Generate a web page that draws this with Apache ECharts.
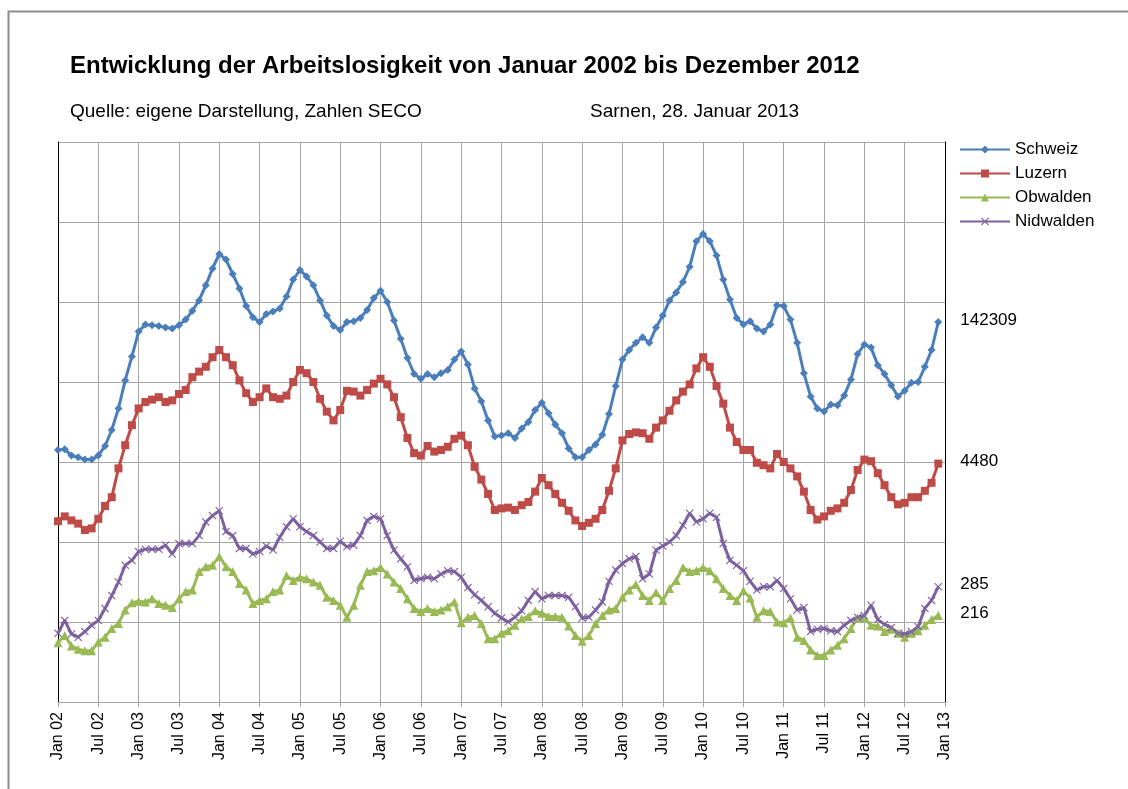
<!DOCTYPE html>
<html>
<head>
<meta charset="utf-8">
<title>Arbeitslosigkeit 2002-2012</title>
<script src="https://cdn.jsdelivr.net/npm/echarts@6.0.0/dist/echarts.min.js"></script>
<style>
  html, body { margin: 0; padding: 0; background: #fff; }
  #chart { width: 1128px; height: 789px; }
</style>
</head>
<body>
<div id="chart"></div>
<script>
// Monatswerte Jan 2002 - Dez 2012, jede Reihe auf eigener (versteckter) Skala, 0..7
const schweiz = [
  3.15, 3.16, 3.08, 3.06, 3.03, 3.03, 3.08, 3.20, 3.40, 3.67, 4.02, 4.32,
  4.63, 4.72, 4.71, 4.70, 4.68, 4.67, 4.71, 4.78, 4.89, 5.02, 5.21, 5.42,
  5.60, 5.53, 5.35, 5.17, 4.95, 4.81, 4.75, 4.85, 4.88, 4.92, 5.07, 5.28,
  5.40, 5.32, 5.21, 5.02, 4.83, 4.70, 4.65, 4.75, 4.76, 4.80, 4.90, 5.05,
  5.14, 5.00, 4.77, 4.54, 4.30, 4.10, 4.04, 4.10, 4.06, 4.11, 4.15, 4.28,
  4.38, 4.22, 3.92, 3.76, 3.52, 3.32, 3.33, 3.36, 3.30, 3.42, 3.50, 3.65,
  3.74, 3.61, 3.47, 3.36, 3.17, 3.06, 3.06, 3.15, 3.22, 3.34, 3.60, 3.95,
  4.28, 4.40, 4.49, 4.56, 4.49, 4.68, 4.83, 5.02, 5.12, 5.25, 5.44, 5.76,
  5.85, 5.76, 5.58, 5.28, 5.03, 4.80, 4.72, 4.76, 4.67, 4.63, 4.72, 4.96,
  4.95, 4.78, 4.49, 4.11, 3.82, 3.67, 3.63, 3.72, 3.71, 3.83, 4.03, 4.35,
  4.47, 4.43, 4.21, 4.10, 3.96, 3.82, 3.89, 3.99, 4.00, 4.19, 4.40, 4.75
];
const luzern = [
  2.26, 2.32, 2.27, 2.23, 2.15, 2.17, 2.29, 2.45, 2.56, 2.92, 3.21, 3.46,
  3.67, 3.75, 3.78, 3.81, 3.75, 3.77, 3.85, 3.90, 4.06, 4.13, 4.19, 4.31,
  4.40, 4.31, 4.21, 4.02, 3.86, 3.75, 3.81, 3.92, 3.81, 3.79, 3.83, 4.00,
  4.15, 4.11, 4.00, 3.79, 3.63, 3.52, 3.65, 3.89, 3.88, 3.83, 3.90, 3.98,
  4.04, 3.97, 3.81, 3.56, 3.30, 3.11, 3.08, 3.20, 3.13, 3.15, 3.19, 3.29,
  3.33, 3.21, 2.94, 2.78, 2.60, 2.40, 2.42, 2.43, 2.40, 2.46, 2.50, 2.63,
  2.80, 2.71, 2.60, 2.49, 2.39, 2.27, 2.20, 2.24, 2.29, 2.40, 2.64, 2.92,
  3.27, 3.35, 3.37, 3.36, 3.29, 3.43, 3.52, 3.64, 3.77, 3.88, 3.97, 4.17,
  4.31, 4.19, 3.95, 3.73, 3.43, 3.25, 3.15, 3.15, 2.99, 2.96, 2.92, 3.10,
  3.00, 2.92, 2.82, 2.63, 2.40, 2.28, 2.32, 2.39, 2.42, 2.49, 2.65, 2.90,
  3.03, 3.01, 2.86, 2.71, 2.56, 2.47, 2.49, 2.56, 2.56, 2.64, 2.74, 2.98
];
const obwalden = [
  0.74, 0.83, 0.70, 0.66, 0.64, 0.64, 0.75, 0.81, 0.92, 0.98, 1.15, 1.24,
  1.26, 1.25, 1.29, 1.23, 1.21, 1.18, 1.29, 1.38, 1.40, 1.63, 1.69, 1.71,
  1.82, 1.69, 1.63, 1.48, 1.40, 1.23, 1.27, 1.29, 1.38, 1.40, 1.58, 1.52,
  1.56, 1.54, 1.50, 1.46, 1.31, 1.27, 1.21, 1.06, 1.21, 1.46, 1.63, 1.64,
  1.68, 1.60, 1.50, 1.42, 1.29, 1.17, 1.13, 1.17, 1.13, 1.15, 1.19, 1.25,
  0.99, 1.06, 1.08, 0.98, 0.79, 0.79, 0.86, 0.89, 0.96, 1.04, 1.07, 1.14,
  1.11, 1.07, 1.07, 1.06, 0.95, 0.83, 0.76, 0.83, 0.98, 1.08, 1.15, 1.17,
  1.31, 1.40, 1.47, 1.33, 1.27, 1.37, 1.27, 1.42, 1.52, 1.68, 1.63, 1.64,
  1.68, 1.64, 1.54, 1.42, 1.33, 1.27, 1.39, 1.30, 1.06, 1.14, 1.13, 1.00,
  0.99, 1.05, 0.81, 0.77, 0.65, 0.58, 0.58, 0.65, 0.71, 0.79, 0.92, 1.05,
  1.05, 0.96, 0.95, 0.88, 0.91, 0.86, 0.81, 0.86, 0.89, 0.96, 1.03, 1.08
];
const nidwalden = [
  0.86, 1.02, 0.85, 0.81, 0.88, 0.96, 1.02, 1.17, 1.33, 1.50, 1.71, 1.77,
  1.88, 1.91, 1.91, 1.91, 1.96, 1.85, 1.98, 1.98, 1.98, 2.08, 2.25, 2.33,
  2.39, 2.13, 2.08, 1.92, 1.92, 1.85, 1.88, 1.95, 1.90, 2.06, 2.19, 2.29,
  2.19, 2.13, 2.08, 2.00, 1.92, 1.92, 2.01, 1.94, 1.96, 2.08, 2.27, 2.32,
  2.29, 2.08, 1.90, 1.79, 1.69, 1.52, 1.54, 1.56, 1.54, 1.60, 1.64, 1.63,
  1.56, 1.43, 1.34, 1.27, 1.19, 1.11, 1.05, 1.00, 1.06, 1.14, 1.27, 1.38,
  1.29, 1.33, 1.33, 1.33, 1.31, 1.19, 1.05, 1.06, 1.15, 1.25, 1.51, 1.65,
  1.73, 1.79, 1.82, 1.54, 1.60, 1.90, 1.95, 2.00, 2.08, 2.21, 2.36, 2.25,
  2.29, 2.36, 2.31, 1.98, 1.77, 1.71, 1.64, 1.51, 1.40, 1.44, 1.44, 1.52,
  1.42, 1.29, 1.15, 1.18, 0.88, 0.91, 0.92, 0.89, 0.88, 0.96, 1.02, 1.06,
  1.08, 1.21, 1.03, 0.97, 0.93, 0.86, 0.85, 0.88, 0.94, 1.17, 1.27, 1.44
];
// Werte Dezember 2012 (Beschriftung rechts)
const lastValues = ["142309", "4480", "216", "285"];
const seriesNames = ["Schweiz", "Luzern", "Obwalden", "Nidwalden"];
const monthNames = ["Jan", "Feb", "Mar", "Apr", "Mai", "Jun", "Jul", "Aug", "Sep", "Okt", "Nov", "Dez"];

// Kategorien Jan 02 .. Jan 13
const months = [];
for (let y = 2; y <= 13; y++) {
  for (let m = 0; m < 12; m++) {
    if (y === 13 && m > 0) break;
    months.push(monthNames[m] + " " + String(y).padStart(2, "0"));
  }
}

const FONT = "Liberation Sans, Arial, sans-serif";
const colors = ["#4a7ebb", "#be4b48", "#98b954", "#7d60a0"];
const crossPath = "path://M0,1 L1,0 L5,4 L9,0 L10,1 L6,5 L10,9 L9,10 L5,6 L1,10 L0,9 L4,5 Z";
const symbols = ["diamond", "rect", "triangle", crossPath];
const symbolSizes = [8, 8, 9, 8];
const allData = [schweiz, luzern, obwalden, nidwalden];

const chart = echarts.init(document.getElementById("chart"), null, { renderer: "canvas" });

const seriesArr = allData.map((data, i) => {
  return {
    name: seriesNames[i],
    type: "line",
    data: data,
    symbol: symbols[i],
    symbolSize: symbolSizes[i],
    showAllSymbol: true,
    color: colors[i],
    lineStyle: { width: 3, color: colors[i] },
    itemStyle: { color: colors[i] },
    endLabel: {
      show: true,
      formatter: lastValues[i],
      distance: 22,
      offset: [0, -2],
      color: "#000",
      fontFamily: FONT,
      fontSize: 17,
    },
    emphasis: { disabled: true },
  };
});

const option = {
  animation: false,
  backgroundColor: "#fff",
  textStyle: { fontFamily: FONT },
  graphic: [
    {
      // Rahmen um das Diagramm
      type: "rect",
      left: 6,
      top: 9,
      shape: { width: 1200, height: 900 },
      style: { fill: "none", stroke: "#8c8c8c", lineWidth: 2 },
    },
  ],
  title: [
    {
      text: "Entwicklung der Arbeitslosigkeit von Januar 2002 bis Dezember 2012",
      left: 65,
      top: 49,
      textStyle: { fontFamily: FONT, fontSize: 24, fontWeight: "bold", color: "#000" },
    },
    {
      text: "Quelle: eigene Darstellung, Zahlen SECO",
      left: 65,
      top: 97,
      textStyle: { fontFamily: FONT, fontSize: 19, fontWeight: "normal", color: "#000" },
    },
    {
      text: "Sarnen, 28. Januar 2013",
      left: 585,
      top: 97,
      textStyle: { fontFamily: FONT, fontSize: 19, fontWeight: "normal", color: "#000" },
    },
  ],
  legend: {
    orient: "vertical",
    left: 954,
    top: 136,
    itemWidth: 50,
    itemHeight: 10,
    itemGap: 7,
    selectedMode: false,
    data: seriesNames,
    textStyle: { fontFamily: FONT, fontSize: 17, color: "#000" },
  },
  grid: {
    left: 58,
    top: 142,
    width: 887,
    height: 560,
    containLabel: false,
  },
  xAxis: {
    type: "category",
    data: months,
    boundaryGap: false,
    axisLine: { show: true, lineStyle: { color: "#a6a6a6", width: 1 } },
    axisTick: { show: true, interval: 5, length: 5, lineStyle: { color: "#a6a6a6" } },
    axisLabel: {
      interval: 5,
      rotate: 90,
      margin: 10,
      color: "#000",
      fontFamily: FONT,
      fontSize: 16,
    },
    splitLine: { show: true, interval: 5, lineStyle: { color: "#a6a6a6", width: 1 } },
  },
  yAxis: [
    {
      type: "value",
      min: 0,
      max: 7,
      interval: 1,
      position: "left",
      axisLine: { show: true, lineStyle: { color: "#000", width: 1 } },
      axisTick: { show: false },
      axisLabel: { show: false },
      splitLine: { show: true, lineStyle: { color: "#a6a6a6", width: 1 } },
    },
    {
      type: "value",
      min: 0,
      max: 7,
      interval: 1,
      position: "right",
      axisLine: { show: true, lineStyle: { color: "#000", width: 1 } },
      axisTick: { show: false },
      axisLabel: { show: false },
      splitLine: { show: false },
    },
  ],
  series: seriesArr,
};

chart.setOption(option);
</script>
</body>
</html>
